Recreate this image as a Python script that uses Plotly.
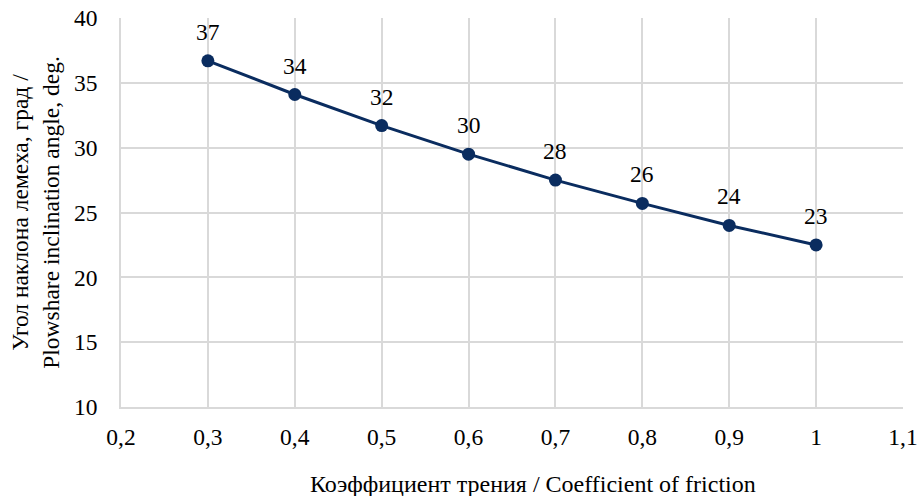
import plotly.graph_objects as go

friction = [0.3, 0.4, 0.5, 0.6, 0.7, 0.8, 0.9, 1.0]
angle = [36.7, 34.1, 31.7, 29.5, 27.5, 25.7, 24.0, 22.5]
angle_labels = ["37", "34", "32", "30", "28", "26", "24", "23"]

x_tickvals = [0.2, 0.3, 0.4, 0.5, 0.6, 0.7, 0.8, 0.9, 1.0, 1.1]
x_ticktext = ["0,2", "0,3", "0,4", "0,5", "0,6", "0,7", "0,8", "0,9", "1", "1,1"]
y_tickvals = [10, 15, 20, 25, 30, 35, 40]

font_family = "Times New Roman, Liberation Serif, DejaVu Serif, serif"
navy = "#0a2c5f"
fs = 23.5

fig = go.Figure()
fig.add_trace(go.Scatter(
    x=friction, y=angle,
    mode="lines+markers",
    line=dict(color=navy, width=3),
    marker=dict(color=navy, size=13),
    cliponaxis=False,
    showlegend=False,
))

annotations = [dict(
    x=xv, y=yv, text=lab, xref="x", yref="y", showarrow=False,
    yshift=29, font=dict(family=font_family, size=fs, color="#000000"),
) for xv, yv, lab in zip(friction, angle, angle_labels)]

annotations.append(dict(
    text="Коэффициент трения / Coefficient of friction",
    xref="paper", yref="paper", x=0.527, y=-0.198,
    xanchor="center", yanchor="middle", showarrow=False,
    font=dict(family=font_family, size=24, color="#000000"),
))

fig.update_layout(
    width=919, height=496,
    margin=dict(l=121, r=16, t=18, b=89, autoexpand=False),
    paper_bgcolor="white", plot_bgcolor="white",
    font=dict(family=font_family, size=fs, color="#000000"),
    xaxis=dict(
        range=[0.2, 1.1], tickvals=x_tickvals, ticktext=x_ticktext,
        showgrid=True, gridcolor="#d9d9d9", gridwidth=1.5,
        showline=True, linecolor="#d9d9d9", linewidth=1.5,
        zeroline=False, ticks="", ticklabelstandoff=8,
        tickfont=dict(family=font_family, size=fs),
        automargin=False,
    ),
    yaxis=dict(
        range=[10, 40], tickvals=y_tickvals,
        showgrid=True, gridcolor="#d9d9d9", gridwidth=1.5,
        showline=True, linecolor="#d9d9d9", linewidth=1.5,
        zeroline=False, ticks="", ticklabelstandoff=17,
        tickfont=dict(family=font_family, size=fs),
        title=dict(text="Угол наклона лемеха, град /<br>Plowshare inclination angle, deg.",
                   font=dict(family=font_family, size=fs), standoff=8),
        automargin=False,
    ),
    annotations=annotations,
)

fig.write_html("out.html", config={"displayModeBar": False},
               post_script="document.body.style.margin='0';")
